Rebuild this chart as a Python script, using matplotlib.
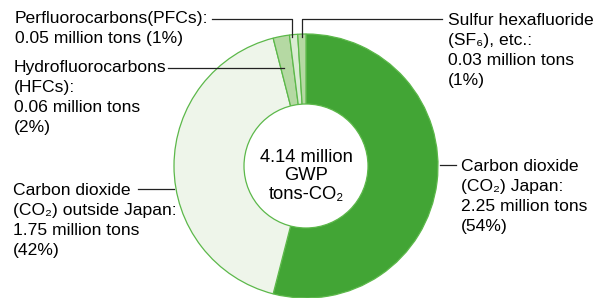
import matplotlib.pyplot as plt

plt.rcParams['font.family'] = ['Liberation Sans', 'DejaVu Sans']

# Emissions breakdown (clockwise from the top)
gases = ['CO2 Japan', 'CO2 outside Japan', 'HFCs', 'PFCs', 'SF6']
shares = [54, 42, 2, 1, 1]
colors = ['#42a535', '#eef5ea', '#b5d9a3', '#d9ecd2', '#b5d9a3']
labels = [
    'Carbon dioxide\n(CO\u2082) Japan:\n2.25 million tons\n(54%)',
    'Carbon dioxide\n(CO\u2082) outside Japan:\n1.75 million tons\n(42%)',
    'Hydrofluorocarbons\n(HFCs):\n0.06 million tons\n(2%)',
    'Perfluorocarbons(PFCs):\n0.05 million tons (1%)',
    'Sulfur hexafluoride\n(SF\u2086), etc.:\n0.03 million tons\n(1%)',
]
center_text = '4.14 million\nGWP\ntons-CO\u2082'

W, H = 593, 298
fig = plt.figure(figsize=(W / 100, H / 100), dpi=100)
ax = fig.add_axes([0, 0, 1, 1])

cx, cy, r = 306, H - 166, 132
edge = '#5cb84a'
ax.pie(shares, colors=colors, startangle=90, counterclock=False,
       center=(cx, cy), radius=r,
       wedgeprops=dict(edgecolor=edge, linewidth=0.9))
ax.add_patch(plt.Circle((cx, cy), 62, facecolor='white', edgecolor=edge,
                        linewidth=0.9, zorder=3))
ax.text(cx, H - 176, center_text, ha='center', va='center', fontsize=13.2,
        linespacing=1.12, zorder=4)

fs = 12.6
ls = 1.42
line_kw = dict(color='#222222', linewidth=0.9)

# PFCs
ax.text(15, H - 11, labels[3], ha='left', va='top', fontsize=fs, linespacing=ls)
ax.plot([212, 292, 292], [H - 19, H - 19, H - 37], **line_kw)
# SF6
ax.text(448, H - 13, labels[4], ha='left', va='top', fontsize=fs, linespacing=ls)
ax.plot([302, 302, 442], [H - 37, H - 19, H - 19], **line_kw)
# HFCs
ax.text(14, H - 60, labels[2], ha='left', va='top', fontsize=fs, linespacing=ls)
ax.plot([168, 284], [H - 68, H - 68], **line_kw)
# CO2 outside Japan
ax.text(13, H - 183, labels[1], ha='left', va='top', fontsize=fs, linespacing=ls)
ax.plot([138, 174], [H - 189, H - 189], **line_kw)
# CO2 Japan
ax.text(461, H - 159, labels[0], ha='left', va='top', fontsize=fs, linespacing=ls)
ax.plot([440, 456], [H - 165, H - 165], **line_kw)

ax.set_xlim(0, W)
ax.set_ylim(0, H)
ax.set_aspect('auto')
ax.axis('off')

fig.savefig('out.png', dpi=100)
